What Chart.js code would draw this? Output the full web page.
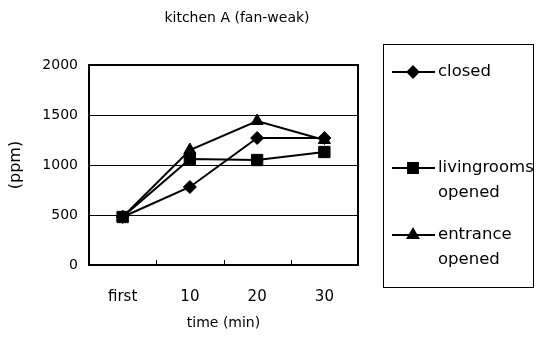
<!DOCTYPE html>
<html>
<head>
<meta charset="utf-8">
<script src="https://cdn.jsdelivr.net/npm/chart.js@4/dist/chart.umd.min.js"></script>
<style>
  html, body { margin: 0; padding: 0; background: #fff; }
  #wrap { width: 537px; height: 341px; }
</style>
</head>
<body>
<div id="wrap"><canvas id="c" width="537" height="341"></canvas></div>
<script>
// CO2 concentration in kitchen A with the hood fan on weak
const categories = ['first', '10', '20', '30'];
const closedValues = [480, 780, 1270, 1270];
const livingroomsValues = [480, 1060, 1050, 1130];
const entranceValues = [480, 1150, 1440, 1250];
const yTickValues = [0, 500, 1000, 1500, 2000];
const seriesLabels = [['closed'], ['livingrooms', 'opened'], ['entrance', 'opened']];

const FONT = 'DejaVu Sans';

// plot frame plus the short inner tick marks on the time axis
const framePlugin = {
  id: 'frame',
  beforeDatasetsDraw(chart) {
    const { ctx, chartArea: a, scales: { x } } = chart;
    ctx.save();
    ctx.strokeStyle = '#000';
    ctx.lineWidth = 1;
    const step = x.getPixelForValue(1) - x.getPixelForValue(0);
    for (let i = 0; i < categories.length - 1; i++) {
      const px = Math.round(x.getPixelForValue(i) + step / 2) + 0.5;
      ctx.beginPath();
      ctx.moveTo(px, a.bottom);
      ctx.lineTo(px, a.bottom - 5);
      ctx.stroke();
    }
    ctx.lineWidth = 2;
    ctx.strokeRect(a.left, a.top, a.right - a.left, a.bottom - a.top);
    ctx.restore();
  }
};

// boxed legend on the right with two-line entries
const boxLegendPlugin = {
  id: 'boxLegend',
  afterDraw(chart) {
    const { ctx } = chart;
    const box = { x: 383.5, y: 44.5, w: 150, h: 243 };
    const rows = [72, 168, 235];
    ctx.save();
    ctx.strokeStyle = '#000';
    ctx.lineWidth = 1;
    ctx.strokeRect(box.x, box.y, box.w, box.h);
    chart.data.datasets.forEach((ds, i) => {
      const y = rows[i];
      ctx.lineWidth = 2;
      ctx.strokeStyle = '#000';
      ctx.beginPath();
      ctx.moveTo(392, y);
      ctx.lineTo(435, y);
      ctx.stroke();
      Chart.helpers.drawPoint(ctx, {
        pointStyle: ds.pointStyle,
        radius: ds.pointRadius - 1,
        rotation: 0,
        borderWidth: 1
      }, 413, y);
      ctx.fillStyle = '#000';
      ctx.font = '16.5px "' + FONT + '"';
      ctx.textBaseline = 'middle';
      ctx.textAlign = 'left';
      seriesLabels[i].forEach((t, k) => ctx.fillText(t, 438, y + k * 25));
    });
    ctx.restore();
  }
};

// chart title
const headingPlugin = {
  id: 'heading',
  afterDraw(chart) {
    const { ctx } = chart;
    ctx.save();
    ctx.fillStyle = '#000';
    ctx.font = '14px "' + FONT + '"';
    ctx.textAlign = 'center';
    ctx.textBaseline = 'middle';
    ctx.fillText('kitchen A (fan-weak)', 237, 18);
    ctx.restore();
  }
};

function series(label, values, style, radius) {
  return {
    label,
    data: values,
    borderColor: '#000',
    backgroundColor: '#000',
    borderWidth: 2,
    pointStyle: style,
    pointRadius: radius,
    pointHoverRadius: radius,
    pointBackgroundColor: '#000',
    pointBorderColor: '#000',
    pointBorderWidth: 1,
    tension: 0,
    fill: false
  };
}

new Chart(document.getElementById('c'), {
  type: 'line',
  data: {
    labels: categories,
    datasets: [
      series(seriesLabels[0].join(' '), closedValues, 'rectRot', 6.5),
      series(seriesLabels[1].join(' '), livingroomsValues, 'rect', 8),
      series(seriesLabels[2].join(' '), entranceValues, 'triangle', 7)
    ]
  },
  options: {
    responsive: false,
    animation: false,
    devicePixelRatio: 1,
    layout: { padding: { left: 0, right: 179, top: 65, bottom: 0 } },
    plugins: {
      legend: { display: false },
      title: { display: false },
      tooltip: { enabled: false }
    },
    scales: {
      x: {
        offset: true,
        grid: { display: false, drawTicks: false, offset: true },
        border: { display: false },
        ticks: { color: '#000', font: { family: FONT, size: 15 }, padding: 23, maxRotation: 0 },
        title: { display: true, text: 'time (min)', color: '#000', font: { family: FONT, size: 14 }, padding: { top: 0, bottom: 9 } },
        afterFit(scale) { scale.height = 76; }
      },
      y: {
        min: 0,
        max: 2000,
        afterBuildTicks(scale) { scale.ticks = yTickValues.map(v => ({ value: v })); },
        grid: { color: '#000', lineWidth: 1, drawTicks: false },
        border: { display: false },
        ticks: { color: '#000', font: { family: FONT, size: 14 }, padding: 11, callback: v => String(v) },
        title: { display: true, text: '(ppm)', color: '#000', font: { family: FONT, size: 16 }, padding: { top: 6, bottom: 0 } },
        afterFit(scale) { scale.width = 89; }
      }
    }
  },
  plugins: [framePlugin, boxLegendPlugin, headingPlugin]
});
</script>
</body>
</html>
